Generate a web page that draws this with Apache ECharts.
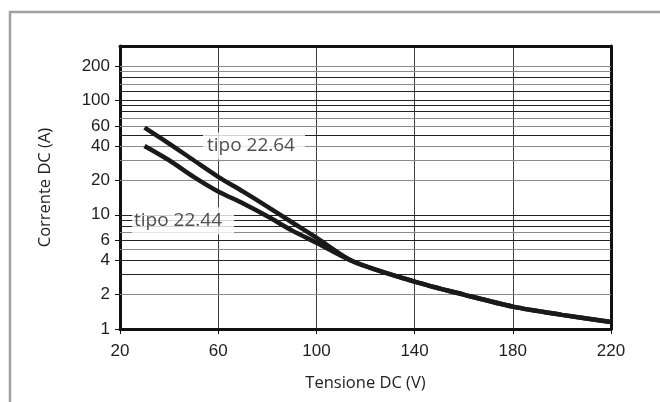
<!DOCTYPE html>
<html>
<head>
<meta charset="utf-8">
<script src="https://cdn.jsdelivr.net/npm/echarts@6/dist/echarts.min.js"></script>
<style>
  html, body { margin: 0; padding: 0; background: #fff; }
  #chart { width: 660px; height: 402px; }
</style>
</head>
<body>
<div id="chart"></div>
<script>
  // axis labels
  var xLabels = [20, 60, 100, 140, 180, 220];
  var yLabels = [1, 2, 4, 6, 10, 20, 40, 60, 100, 200];
  // horizontal grid of the log paper
  var yGrid = [2, 3, 4, 5, 6, 7, 8, 9, 10, 20, 30, 40, 50, 60, 70, 80, 90, 100, 120, 140, 160, 180, 200];

  // curves: [tensione V, corrente A]
  var tipo2264 = [[30, 58], [40, 42], [50, 30], [60, 21.5], [70, 16], [80, 11.8], [90, 8.6], [100, 6.3],
                  [115, 3.9], [140, 2.6], [160, 2.0], [180, 1.57], [200, 1.33], [220, 1.15]];
  var tipo2244 = [[30, 40], [40, 30], [50, 21.5], [60, 16], [70, 12.6], [80, 9.7], [90, 7.3], [100, 5.7],
                  [115, 3.9], [140, 2.6], [160, 2.0], [180, 1.57], [200, 1.33], [220, 1.15]];

  // curve captions, anchored at the left edge of their box
  var captionNames = ['tipo 22.64', 'tipo 22.44'];
  var captionX = [53.8, 24.9];
  var captionY = [40, 8.85];

  var darkGrid = [3, 4, 6, 8, 9, 10, 50, 80, 90, 100, 120, 160];

  var chart = echarts.init(document.getElementById('chart'));

  var curveStyle = { color: '#1a1a1a', width: 4.5 };
  var tickFont = { fontFamily: 'Liberation Sans', fontSize: 17, color: '#1e1e1e' };
  var nameFont = { fontFamily: 'Open Sans', fontSize: 16.5, color: '#222' };

  var captionPad = [[5, 10, 5, 4], [5, 12, 5, 2]];

  var option = {
    animation: false,
    grid: { left: 120, top: 46, right: 49, bottom: 73, containLabel: false },
    graphic: [{
      type: 'rect',
      silent: true,
      shape: { x: 10, y: 12, width: 700, height: 450 },
      style: { fill: 'none', stroke: '#a0a0a0', lineWidth: 2.5 }
    }],
    xAxis: [{
      type: 'value',
      min: 20, max: 220, interval: 20,
      position: 'bottom',
      axisLine: { lineStyle: { color: '#111', width: 3 } },
      axisTick: { show: true, customValues: xLabels, length: 5, lineStyle: { color: '#111', width: 1 } },
      axisLabel: Object.assign({ customValues: xLabels, margin: 14 }, tickFont),
      splitLine: { show: true, lineStyle: { color: '#3c3c3c', width: 1 } },
      name: 'Tensione DC (V)',
      nameLocation: 'middle',
      nameGap: 46,
      nameTextStyle: nameFont
    }, {
      type: 'value',
      min: 20, max: 220,
      position: 'top',
      axisLine: { lineStyle: { color: '#111', width: 3 } },
      axisTick: { show: false },
      axisLabel: { show: false },
      splitLine: { show: false }
    }],
    yAxis: [{
      type: 'log',
      logBase: 10,
      min: 1, max: 300,
      position: 'left',
      axisLine: { show: true, lineStyle: { color: '#111', width: 3 } },
      axisTick: { show: true, customValues: yLabels, length: 5, lineStyle: { color: '#111', width: 1 } },
      axisLabel: Object.assign({ customValues: yLabels, margin: 10 }, tickFont),
      splitLine: { show: false },
      minorSplitLine: { show: false },
      name: 'Corrente DC (A)',
      nameLocation: 'middle',
      nameGap: 66,
      nameTextStyle: nameFont
    }, {
      type: 'log',
      logBase: 10,
      min: 1, max: 300,
      position: 'right',
      axisLine: { show: true, lineStyle: { color: '#111', width: 3 } },
      axisTick: { show: false },
      axisLabel: { show: false },
      splitLine: { show: false }
    }],
    series: [{
      name: 'griglia',
      type: 'line',
      data: [],
      silent: true,
      z: 1,
      markLine: {
        silent: true,
        z: 1,
        symbol: ['none', 'none'],
        label: { show: false },
        animation: false,
        data: yGrid.map(function (v) {
          return {
            yAxis: v,
            lineStyle: { type: 'solid', width: 1, color: darkGrid.indexOf(v) >= 0 ? '#222' : '#8a8a8a' }
          };
        })
      }
    }, {
      name: 'didascalie',
      type: 'scatter',
      symbolSize: 0,
      silent: true,
      z: 3,
      data: captionNames.map(function (n, i) {
        return {
          name: n,
          value: [captionX[i], captionY[i]],
          label: { padding: captionPad[i] }
        };
      }),
      label: {
        show: true,
        position: 'right',
        distance: 0,
        formatter: '{b}',
        backgroundColor: '#fff',
        fontFamily: 'Open Sans',
        fontSize: 19,
        lineHeight: 17,
        color: '#222'
      }
    }, {
      name: 'tipo 22.64',
      type: 'line',
      data: tipo2264,
      smooth: 0.3,
      showSymbol: false,
      z: 4,
      lineStyle: curveStyle
    }, {
      name: 'tipo 22.44',
      type: 'line',
      data: tipo2244,
      smooth: 0.3,
      showSymbol: false,
      z: 4,
      lineStyle: curveStyle
    }]
  };

  chart.setOption(option);
</script>
</body>
</html>
